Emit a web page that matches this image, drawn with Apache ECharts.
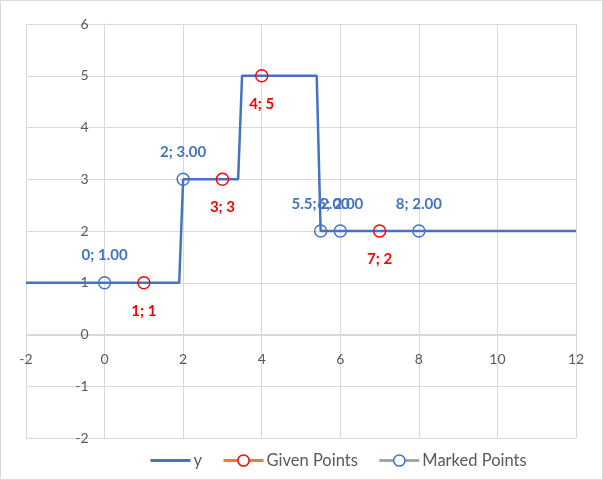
<!DOCTYPE html>
<html>
<head>
<meta charset="utf-8">
<title>Step chart</title>
<script src="https://cdn.jsdelivr.net/npm/echarts@6/dist/echarts.min.js"></script>
<style>
  html, body { margin: 0; padding: 0; background: #fff; }
  #chart1 { width: 603px; height: 480px; }
</style>
</head>
<body>
<div id="chart1"></div>
<script type="text/javascript">
// step line y
var lineX = [-2, 1.9, 2, 3.4, 3.5, 5.4, 5.5, 12];
var lineY = [1, 1, 3, 3, 5, 5, 2, 2];
// given points
var givenX = [1, 3, 4, 7];
var givenY = [1, 3, 5, 2];
// marked points
var markedX = [0, 2, 5.5, 6, 8];
var markedY = [1, 3, 2, 2, 2];

var seriesNames = ['y', 'Given Points', 'Marked Points'];

function pairs(xs, ys) {
    return xs.map(function (x, i) { return [x, ys[i]]; });
}

var font = 'Lato, "Open Sans", sans-serif';
var blue = '#4472C4', orange = '#ED7D31', gray = '#A5A5A5', red = '#FF0000';

var myChart1 = echarts.init(document.getElementById('chart1'));
myChart1.setOption({
    animation: false,
    textStyle: { fontFamily: font },
    grid: { left: 26, right: 27, top: 24, bottom: 42 },
    graphic: [{
        type: 'rect',
        shape: { x: 0.5, y: 0.5, width: 602, height: 479 },
        style: { fill: 'none', stroke: '#D9D9D9', lineWidth: 1 },
        silent: true
    }],
    legend: {
        left: 144,
        top: 447,
        itemWidth: 40,
        itemHeight: 14,
        itemGap: 20,
        textStyle: { color: '#595959', fontSize: 16.5, fontFamily: font, padding: [0, 0, 0, -2] },
        data: [
            { name: seriesNames[0], lineStyle: { color: blue, width: 3 },
              itemStyle: { color: 'rgba(0,0,0,0)', borderWidth: 0, opacity: 0 } },
            { name: seriesNames[1], lineStyle: { color: orange, width: 3, opacity: 1 },
              itemStyle: { color: '#fff', borderColor: red, borderWidth: 1.5 } },
            { name: seriesNames[2], lineStyle: { color: gray, width: 3, opacity: 1 },
              itemStyle: { color: '#fff', borderColor: blue, borderWidth: 1.5 } }
        ]
    },
    xAxis: {
        type: 'value',
        min: -2, max: 12, interval: 2,
        offset: -103,
        axisLine: { onZero: false, lineStyle: { color: '#D9D9D9', width: 1 } },
        axisTick: { show: false },
        axisLabel: { color: '#595959', fontSize: 14, margin: 17 },
        splitLine: { show: true, lineStyle: { color: '#D9D9D9', width: 1 } }
    },
    yAxis: {
        type: 'value',
        min: -2, max: 6, interval: 1,
        offset: -78.6,
        axisLine: { show: true, onZero: false, lineStyle: { color: '#D9D9D9', width: 1 } },
        axisTick: { show: false },
        axisLabel: { color: '#595959', fontSize: 14, margin: 16 },
        splitLine: { show: true, lineStyle: { color: '#D9D9D9', width: 1 } }
    },
    series: [{
        name: seriesNames[0],
        type: 'line',
        data: pairs(lineX, lineY),
        symbol: 'none',
        lineStyle: { color: blue, width: 2.5 },
        itemStyle: { color: blue },
        z: 2
    }, {
        name: seriesNames[1],
        type: 'line',
        data: pairs(givenX, givenY),
        symbol: 'circle',
        symbolSize: 12,
        lineStyle: { width: 0, opacity: 0, color: orange },
        itemStyle: { color: 'rgba(255,255,255,0)', borderColor: red, borderWidth: 1.4 },
        label: {
            show: true,
            position: 'bottom',
            distance: 14,
            color: red,
            fontWeight: 'bold',
            fontSize: 15,
            formatter: function (p) { return p.value[0] + '; ' + p.value[1]; }
        },
        z: 3
    }, {
        name: seriesNames[2],
        type: 'line',
        data: pairs(markedX, markedY),
        symbol: 'circle',
        symbolSize: 12,
        lineStyle: { width: 0, opacity: 0, color: gray },
        itemStyle: { color: 'rgba(255,255,255,0)', borderColor: blue, borderWidth: 1.4 },
        label: {
            show: true,
            position: 'top',
            distance: 13,
            color: blue,
            fontWeight: 'bold',
            fontSize: 15,
            formatter: function (p) { return p.value[0] + '; ' + p.value[1].toFixed(2); }
        },
        labelLayout: { hideOverlap: false },
        z: 4
    }]
});
</script>
</body>
</html>
